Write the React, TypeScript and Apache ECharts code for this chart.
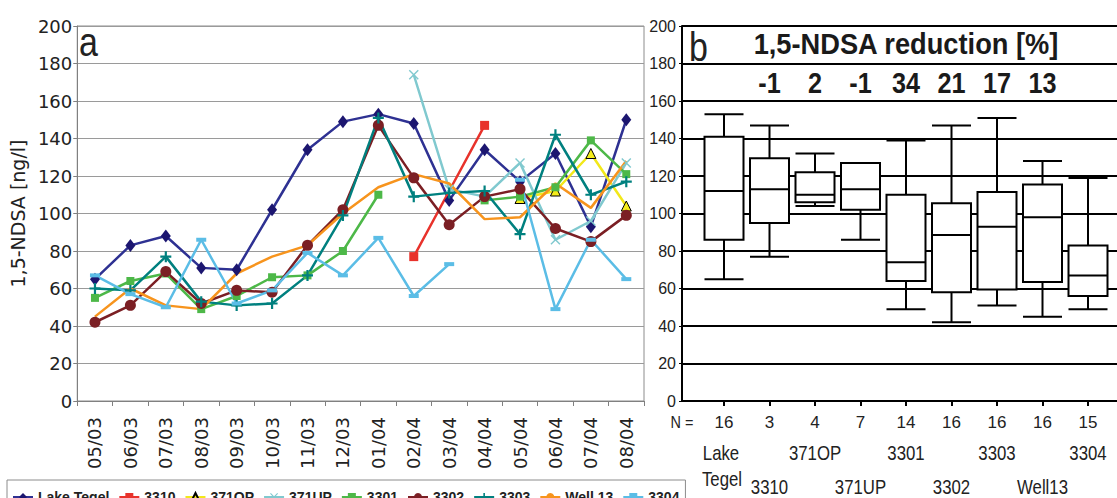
import React, { useEffect, useRef } from 'react';
import * as echarts from 'echarts';

const dates = ['05/03', '06/03', '07/03', '08/03', '09/03', '10/03', '11/03', '12/03', '01/04', '02/04', '03/04', '04/04', '05/04', '06/04', '07/04', '08/04'];

const lakeTegel = [65, 83, 88, 71, 70, 102, 134, 149, 153, 148, 107, 134, 117, 132, 93, 150];
const s3310: any[] = [null, null, null, null, null, null, null, null, null, 77, { value: 112, symbol: 'none' }, 147, null, null, null, null];
const s371OP = [null, null, null, null, null, null, null, null, null, null, null, null, 108, 112, 132, 104];
const s371UP = [null, null, null, null, null, null, null, null, null, 174, 113, 109, 127, 86, 96, 127];
const s3301 = [55, 64, 68, 49, 56, 66, 67, 80, 110, null, null, 107, 109, 114, 139, 121];
const s3302 = [42, 51, 69, 52, 59, 58, 83, 102, 147, 119, 94, 109, 113, 92, 85, 99];
const s3303 = [60, 59, 77, 53, 51, 52, 67, 99, 151, 109, 111, 112, 89, 142, 110, 117];
const well13 = [45, 60, 51, 49, 68, 77, 83, 100, 114, 121, 116, 97, 98, 116, 103, 128];
const s3304 = [67, 57, 50, 86, 52, 59, 79, 67, 87, 56, 73, null, 118, 49, 86, 65];

const boxNames = ['Lake Tegel', '3310', '371OP', '371UP', '3301', '3302', '3303', 'Well13', '3304'];
const boxN = [16, 3, 4, 7, 14, 16, 16, 16, 15];
const reductions = ['', '-1', '2', '-1', '34', '21', '17', '13', ''];
// [min, Q1, median, Q3, max]
const boxStats = [
  [65, 86, 112, 141, 153],
  [77, 95, 113, 129.5, 147],
  [104, 106, 110, 122, 132],
  [86, 102, 113, 127, 127],
  [49, 64, 74, 110, 139],
  [42, 58, 88.5, 105.5, 147],
  [51, 59.5, 93, 111.5, 151],
  [45, 63.5, 98, 115.5, 128],
  [49, 56, 67, 83, 119],
];
const yTicksMax = 200;
const yInterval = 20;

const WIDE = '"DejaVu Sans", Verdana, sans-serif';
const ARIAL = '"Liberation Sans", Arial, sans-serif';

const PLUS = 'path://M4,0H6V4H10V6H6V10H4V6H0V4H4Z';
const CROSS = 'path://M1,0L5,4L9,0L10,1L6,5L10,9L9,10L5,6L1,10L0,9L4,5L0,1Z';

const plotTop = 26;
const plotH = 375;
const boxLeft = 701.25;
const bandW = 45.5;

function lineSeries(name: string, data: any[], color: string, symbol: string, symbolSize: any) {
  return {
    type: 'line',
    name,
    data,
    xAxisIndex: 0,
    yAxisIndex: 0,
    symbol,
    symbolSize,
    showSymbol: symbol !== 'none',
    connectNulls: false,
    lineStyle: { color, width: 2.5 },
    itemStyle: { color },
    emphasis: { disabled: true },
  };
}

function txt(text: string, x: number, y: number, fontSize: number, opts: any = {}) {
  return {
    type: 'text',
    x,
    y,
    scaleX: opts.scaleX ?? 1,
    style: {
      text,
      fontSize,
      fontWeight: opts.bold ? 'bold' : 'normal',
      fontFamily: opts.font ?? ARIAL,
      fill: opts.fill ?? '#1a1a1a',
      verticalAlign: 'middle',
      align: opts.align ?? 'center',
    },
  };
}

function buildOption() {
  const graphics: any[] = [
    txt('a', 79, 42, 40, { align: 'left', scaleX: 0.85, fill: '#222' }),
    txt('b', 689, 47, 40, { align: 'left', scaleX: 0.85, fill: '#222' }),
    txt('1,5-NDSA reduction [%]', 906, 44, 29, { bold: true, scaleX: 0.94 }),
    txt('N =', 682, 422, 17, { scaleX: 0.85, fill: '#222' }),
  ];
  reductions.forEach((r, i) => {
    if (!r) return;
    graphics.push(txt(r, boxLeft + (i + 0.5) * bandW, 83, 29, { bold: true, scaleX: 0.87 }));
  });
  boxNames.forEach((name, i) => {
    const cx = boxLeft + (i + 0.5) * bandW;
    if (name === 'Lake Tegel') {
      graphics.push(txt('Lake', cx - 3, 453, 20, { scaleX: 0.84, fill: '#222' }));
      graphics.push(txt('Tegel', cx - 2, 479, 20, { scaleX: 0.84, fill: '#222' }));
    } else {
      graphics.push(txt(name, cx, i % 2 === 0 ? 453 : 487, 20, { scaleX: 0.84, fill: '#222' }));
    }
  });

  return {
    animation: false,
    backgroundColor: '#ffffff',
    textStyle: { fontFamily: WIDE },
    grid: [
      { left: 73, top: plotTop, width: 571, height: plotH, show: true, borderColor: '#8c8c8c', borderWidth: 1, backgroundColor: 'transparent' },
      { left: 682, top: plotTop, width: 440, height: plotH },
      { left: boxLeft, top: plotTop, width: bandW * boxNames.length, height: plotH },
    ],
    legend: {
      left: 7,
      top: 480,
      orient: 'horizontal',
      itemWidth: 20,
      itemHeight: 10,
      itemGap: 9,
      padding: [10, 6, 6, 5],
      borderColor: '#8c8c8c',
      borderWidth: 1,
      textStyle: { fontSize: 14, fontWeight: 'bold', fontFamily: ARIAL, color: '#222' },
      data: ['Lake Tegel', '3310', '371OP', '371UP', '3301', '3302', '3303', 'Well 13', '3304'],
    },
    xAxis: [
      {
        gridIndex: 0,
        type: 'category',
        data: dates,
        boundaryGap: true,
        axisLine: { show: true, lineStyle: { color: '#808080', width: 1 } },
        axisTick: { show: true, length: 5, lineStyle: { color: '#808080' } },
        axisLabel: { rotate: 90, interval: 0, margin: 16, fontSize: 18, fontFamily: WIDE, color: '#222' },
        splitLine: { show: false },
      },
      {
        gridIndex: 1,
        type: 'value',
        min: 0,
        max: 1,
        axisLine: { show: true, lineStyle: { color: '#000', width: 2 } },
        axisTick: { show: false },
        axisLabel: { show: false },
        splitLine: { show: false },
      },
      {
        gridIndex: 2,
        type: 'category',
        data: boxNames,
        boundaryGap: true,
        axisLine: { show: false },
        axisTick: { show: true, alignWithLabel: true, length: 5, lineStyle: { color: '#000', width: 2 } },
        axisLabel: {
          interval: 0,
          margin: 11,
          fontSize: 17,
          lineHeight: 20,
          color: '#222',
          fontFamily: ARIAL,
          formatter: (_v: string, i: number) => String(boxN[i]),
        },
        splitLine: { show: false },
      },
    ],
    yAxis: [
      {
        gridIndex: 0,
        type: 'value',
        min: 0,
        max: yTicksMax,
        interval: yInterval,
        name: '1,5-NDSA [ng/l]',
        nameLocation: 'middle',
        nameGap: 38,
        nameTextStyle: { fontSize: 19, fontFamily: WIDE, color: '#222' },
        axisLine: { show: true, lineStyle: { color: '#808080', width: 1 } },
        axisTick: { show: true, length: 4, lineStyle: { color: '#808080' } },
        axisLabel: { margin: 5, fontSize: 18, fontFamily: WIDE, color: '#222' },
        splitLine: { show: true, lineStyle: { color: '#9a9a9a', width: 1 } },
      },
      {
        gridIndex: 1,
        type: 'value',
        min: 0,
        max: yTicksMax,
        interval: yInterval,
        axisLine: { show: true, lineStyle: { color: '#000', width: 2 } },
        axisTick: { show: true, length: 3, lineStyle: { color: '#000', width: 1 } },
        axisLabel: { margin: 6, fontSize: 16, fontFamily: ARIAL, color: '#222' },
        splitLine: { show: true, lineStyle: { color: '#000', width: 2 } },
      },
      {
        gridIndex: 2,
        type: 'value',
        min: 0,
        max: yTicksMax,
        interval: yInterval,
        show: false,
        splitLine: { show: false },
      },
    ],
    series: [
      { ...lineSeries('Lake Tegel', lakeTegel, '#2e3192', 'diamond', [10, 13]), itemStyle: { color: '#1c1670' } },
      lineSeries('3310', s3310, '#e8322b', 'rect', 9),
      { ...lineSeries('371OP', s371OP, '#f2e81a', 'triangle', 10), itemStyle: { color: '#f5ec1a', borderColor: '#000', borderWidth: 1 } },
      lineSeries('371UP', s371UP, '#80c9cf', CROSS, 10),
      lineSeries('3301', s3301, '#4db848', 'rect', 8),
      lineSeries('3302', s3302, '#7b1f24', 'circle', 11),
      lineSeries('3303', s3303, '#00807f', PLUS, 11),
      lineSeries('Well 13', well13, '#f7941d', 'none', 0),
      lineSeries('3304', s3304, '#5bbde6', 'rect', [10, 4]),
      {
        type: 'boxplot',
        name: 'box',
        xAxisIndex: 2,
        yAxisIndex: 2,
        data: boxStats,
        boxWidth: [39, 39],
        itemStyle: { color: '#ffffff', borderColor: '#000', borderWidth: 2 },
        emphasis: { disabled: true },
      },
    ],
    graphic: graphics,
  };
}

export default function App() {
  const ref = useRef<HTMLDivElement>(null);
  useEffect(() => {
    const chart = echarts.init(ref.current!, null, { renderer: 'svg' });
    chart.setOption(buildOption() as any);
    return () => chart.dispose();
  }, []);
  return (
    <div
      ref={ref}
      style={{ position: 'fixed', left: 0, top: 0, width: 1117, height: 498, background: '#fff' }}
    />
  );
}
